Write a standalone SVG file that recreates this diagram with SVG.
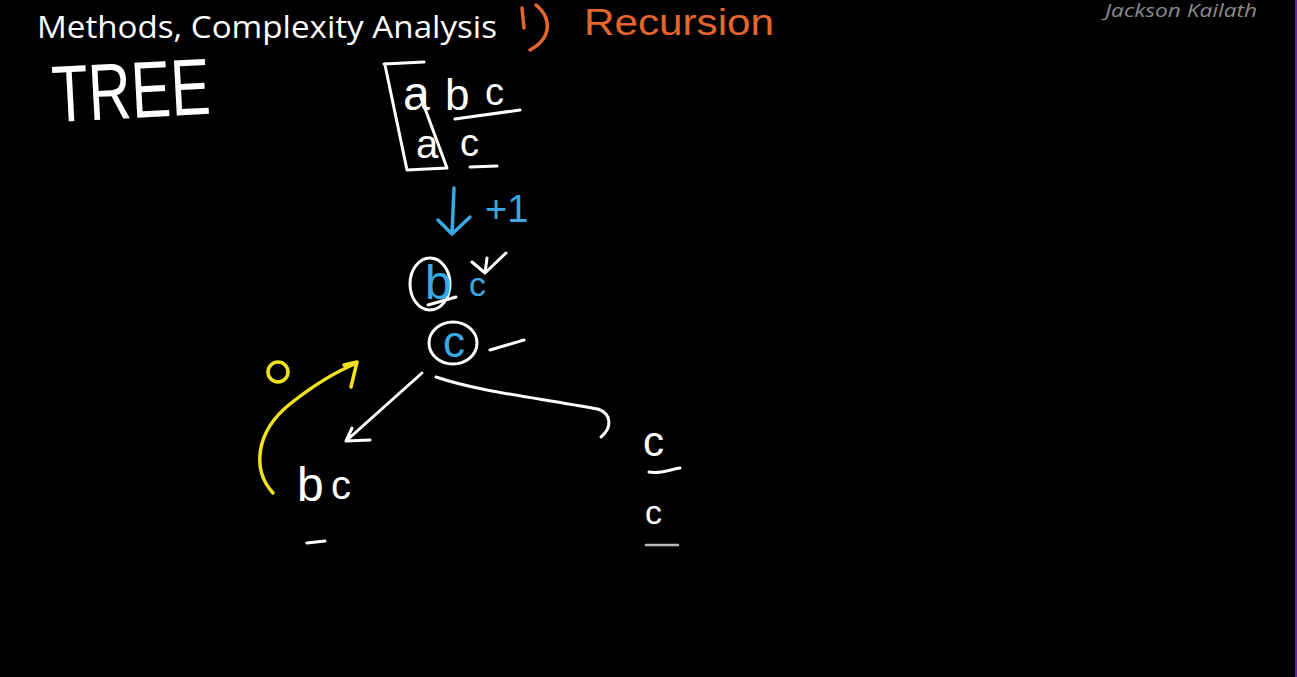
<svg xmlns="http://www.w3.org/2000/svg" width="1297" height="677" viewBox="0 0 1297 677">
<style>
.w{fill:none;stroke:#fff;stroke-width:3;stroke-linecap:round;stroke-linejoin:round}
.b{fill:none;stroke:#3aa8e2;stroke-width:3.5;stroke-linecap:round;stroke-linejoin:round}
.y{fill:none;stroke:#f2e21c;stroke-width:3.5;stroke-linecap:round;stroke-linejoin:round}
.o{fill:none;stroke:#e5662c;stroke-width:3.5;stroke-linecap:round;stroke-linejoin:round}
.hw{font-family:"Liberation Sans","Open Sans",sans-serif;font-weight:400}
.tw{fill:#fff}
.tb{fill:#3aa8e2}
.ty{fill:#f2e21c}
.to{fill:#e5662c}
</style>
<rect width="1297" height="677" fill="#000"/>
<rect x="1295" y="0" width="2" height="677" fill="#6a1fa0"/>
<text x="37" y="38" font-family="'Open Sans','Liberation Sans',sans-serif" font-size="31" fill="#fff" textLength="460" lengthAdjust="spacingAndGlyphs">Methods, Complexity Analysis</text>
<text x="1105" y="17" font-family="'Open Sans','Liberation Sans',sans-serif" font-style="italic" font-size="18" fill="#8a8a8a" textLength="152" lengthAdjust="spacingAndGlyphs">Jackson Kailath</text>

<g id="title-recursion">
<path class="o" d="M522 8 L524 28"/>
<path class="o" d="M536 5 C552 18 552 38 530 50"/>
<text class="hw to" x="584" y="35" font-size="36" textLength="190" lengthAdjust="spacingAndGlyphs">Recursion</text>
</g>

<g id="tree-label">
<text class="hw tw" x="52" y="118" font-size="80" textLength="158" lengthAdjust="spacingAndGlyphs" transform="rotate(-3 130 90)">TREE</text>
</g>

<g id="node-root">
<path class="w" d="M384 64 L424 62 M385 65 L407 170 L447 168 L420 95"/>
<text class="hw tw" x="403" y="110" font-size="48">a</text>
<text class="hw tw" x="445" y="110" font-size="44">b</text>
<text class="hw tw" x="485" y="105" font-size="38">c</text>
<path class="w" d="M455 119 L520 110"/>
<text class="hw tw" x="416" y="158" font-size="40">a</text>
<text class="hw tw" x="460" y="156" font-size="38">c</text>
<path class="w" d="M470 167 L497 166"/>
</g>

<g id="step-plus1">
<path class="b" d="M454 188 L452 234 M438 220 L452 234 L470 217"/>
<text class="hw tb" x="485" y="222" font-size="38">+1</text>
<path class="w" d="M506 253 L485 273 M472 262 L485 273 L487 258"/>
</g>

<g id="node-bc">
<ellipse class="w" cx="430" cy="284" rx="20" ry="26"/>
<text class="hw tb" x="425" y="299" font-size="48">b</text>
<text class="hw tb" x="469" y="296" font-size="34">c</text>
<path class="w" d="M428 305 L456 297"/>
</g>

<g id="node-c">
<ellipse class="w" cx="453" cy="343" rx="24" ry="21"/>
<text class="hw tb" x="443" y="357" font-size="44">c</text>
<path class="w" d="M490 350 L524 340"/>
</g>

<g id="connectors">
<path class="w" d="M422 373 L346 441 M346 441 L370 440 M346 441 L352 428"/>
<path class="w" d="M436 377 C480 392 540 398 597 409"/>
<path class="w" d="M598 409 C612 414 612 428 601 437"/>
<path class="y" d="M273 493 C252 470 255 432 290 404 C315 384 335 372 357 363 M344 365 L357 362 L351 387"/>
<ellipse class="y" cx="278" cy="372" rx="10" ry="10"/>
</g>

<g id="node-left-bc">
<text class="hw tw" x="297" y="501" font-size="48">b</text>
<text class="hw tw" x="331" y="499" font-size="40">c</text>
<path class="w" d="M307 543 L325 541"/>
</g>

<g id="node-right-c">
<text class="hw tw" x="643" y="456" font-size="42">c</text>
<path class="w" d="M649 472 C660 474 668 470 680 468"/>
<text class="hw tw" x="645" y="524" font-size="34">c</text>
<path d="M646 545 L678 545" fill="none" stroke="#bbb" stroke-width="2.5" stroke-linecap="round"/>
</g>
</svg>
